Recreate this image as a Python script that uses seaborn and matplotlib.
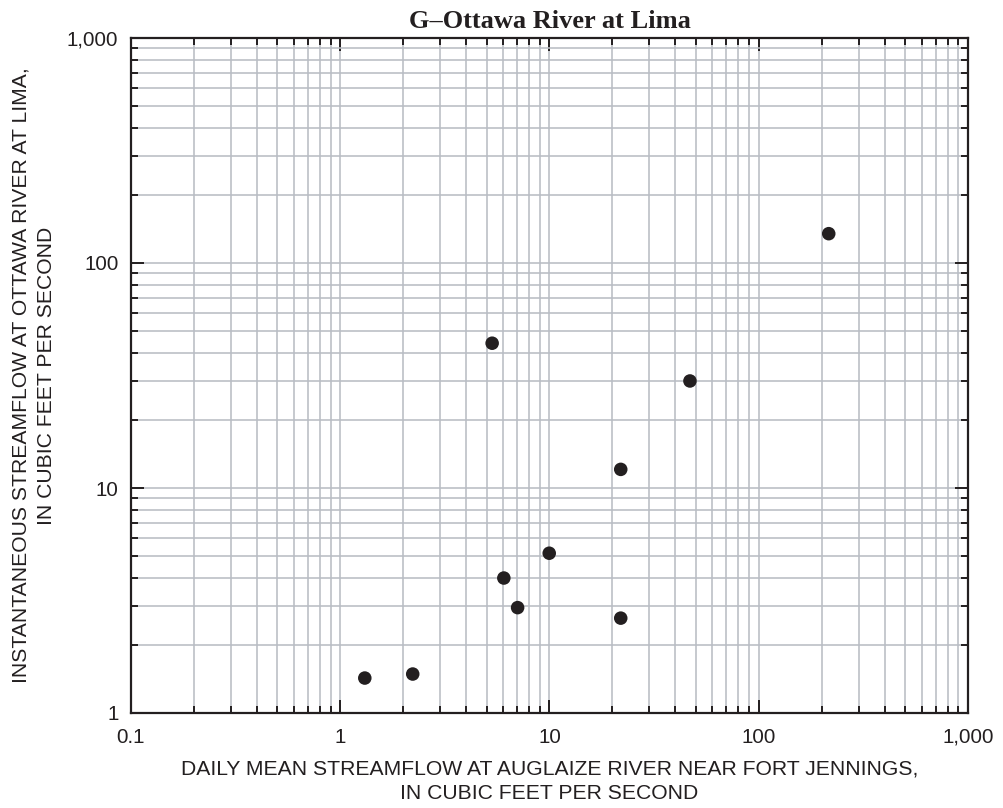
import matplotlib
matplotlib.use("Agg")
import matplotlib.pyplot as plt
import matplotlib.ticker as mticker
import seaborn as sns
import pandas as pd
import numpy as np

# Data
fort_jennings_cfs = [1.31, 2.22, 5.32, 6.05, 7.04, 9.97, 21.9, 21.9, 46.9, 216]
lima_cfs = [1.43, 1.49, 44.0, 3.98, 2.94, 5.13, 12.1, 2.64, 29.9, 135]

x_ticks = [0.1, 1, 10, 100, 1000]
x_ticklabels = ["0.1", "1", "10", "100", "1,000"]
y_ticks = [1, 10, 100, 1000]
y_ticklabels = ["1", "10", "100", "1,000"]

title = "G\u2013Ottawa River at Lima"
xlabel = "DAILY MEAN STREAMFLOW AT AUGLAIZE RIVER NEAR FORT JENNINGS,\nIN CUBIC FEET PER SECOND"
ylabel = "INSTANTANEOUS STREAMFLOW AT OTTAWA RIVER AT LIMA,\nIN CUBIC FEET PER SECOND"

df = pd.DataFrame({"x": fort_jennings_cfs, "y": lima_cfs})

sns.set_style("white")
plt.rcParams['font.family'] = ['Liberation Sans', 'DejaVu Sans']

ink = "#231f20"
grid_col = "#b9bdc4"

fig = plt.figure(figsize=(10.04, 8.08), dpi=100)
ax = fig.add_axes([131/1004, 1-713/808, (968-131)/1004, (713-38)/808])

ax.set_xscale("log")
ax.set_yscale("log")
ax.set_xlim(0.1, 1000)
ax.set_ylim(1, 1000)

sns.scatterplot(data=df, x="x", y="y", ax=ax, s=95, color=ink,
                edgecolor="none", linewidth=0, zorder=5)

ax.xaxis.set_major_locator(mticker.FixedLocator(x_ticks))
ax.yaxis.set_major_locator(mticker.FixedLocator(y_ticks))
ax.xaxis.set_minor_locator(mticker.LogLocator(base=10, subs=np.arange(2, 10)))
ax.yaxis.set_minor_locator(mticker.LogLocator(base=10, subs=np.arange(2, 10)))
ax.xaxis.set_minor_formatter(mticker.NullFormatter())
ax.yaxis.set_minor_formatter(mticker.NullFormatter())
ax.set_xticklabels(x_ticklabels)
ax.set_yticklabels(y_ticklabels)

ax.grid(True, which="both", color=grid_col, linewidth=1.15, zorder=0)
ax.set_axisbelow(True)

for sp in ax.spines.values():
    sp.set_color(ink)
    sp.set_linewidth(1.6)
    sp.set_visible(True)

ax.tick_params(which="both", direction="in", top=True, right=True,
               bottom=True, left=True, color=ink, width=1.4)
ax.tick_params(which="major", length=9.5, labelsize=14.8, labelcolor=ink)
ax.tick_params(axis="x", which="major", pad=10.5)
ax.tick_params(axis="y", which="major", pad=9)
ax.tick_params(which="minor", length=5)

ax.set_xlabel(xlabel, fontsize=15.2, color=ink, labelpad=9, linespacing=1.42)
ax.set_ylabel(ylabel, fontsize=15.2, color=ink, labelpad=8, linespacing=1.42)
ax.set_title(title, fontsize=19, fontweight="bold", family="Liberation Serif",
             color=ink, pad=7.5)

fig.savefig("out.png", dpi=100)
